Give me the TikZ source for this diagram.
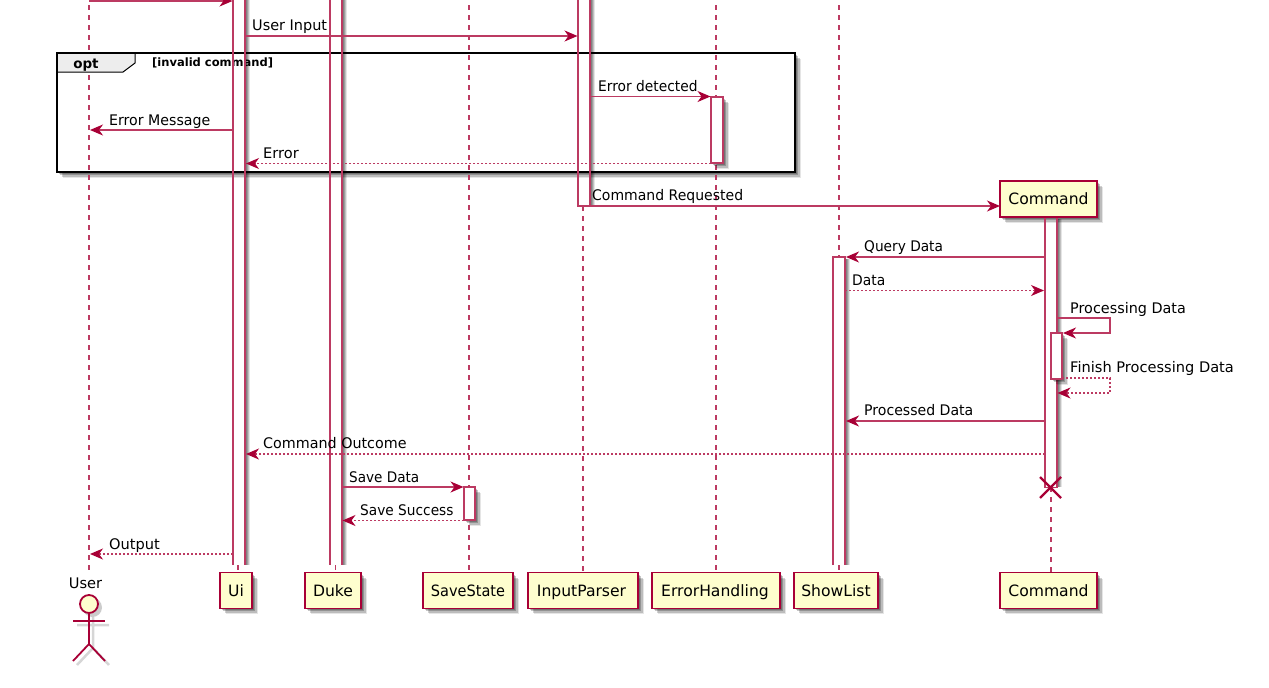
\documentclass[tikz,border=0pt]{standalone}
\usepackage{graphicx}
\usepackage{fontspec}
\setmainfont{DejaVu Sans}
\usetikzlibrary{arrows.meta}
\definecolor{pu}{HTML}{A80036}
\definecolor{pusoft}{HTML}{BC3A62}
\definecolor{pubox}{HTML}{FEFECE}
\newcommand{\lblsize}{\fontsize{14.6}{17}\selectfont}
\newcommand{\headsize}{\fontsize{15.6}{18}\selectfont}
\newcommand{\sx}[2]{\scalebox{#1}[1]{#2}}
% soft shadow of a box: x1 y1 x2 y2
\newcommand{\softbox}[4]{%
  \foreach \d/\o in {1.5/.22,3/.22,4.5/.18,5.5/.1}
    \fill[black,opacity=\o] (#1+\d,#2+\d) rectangle (#3+\d,#4+\d);}
% soft shadow to the right of an unfilled bar: x y1 y2
\newcommand{\softside}[3]{%
  \foreach \d/\o in {2/.18,3/.18,4/.16,5/.1}
    \fill[black,opacity=\o] (#1+.6,#2+2) rectangle (#1+\d,#3+2);}
\tikzset{
  head/.style={draw=pu,line width=1.5pt,fill=pubox,minimum height=36pt,inner sep=0pt,outer sep=0pt,font=\headsize,text=black,text height=14pt,text depth=3pt},
  bar/.style={minimum width=12pt,inner sep=0pt,outer sep=0pt},
  barline/.style={draw=pusoft,line width=1.2pt},
  life/.style={draw=pusoft,line width=1.2pt,dash pattern=on 5pt off 5pt},
  msg/.style={draw=pusoft,line width=1.2pt,-{Stealth[length=13pt,width=11pt,inset=4pt,color=pu]}},
  ret/.style={msg,dash pattern=on 2pt off 2pt},
  lbl/.style={anchor=base west,inner sep=0pt,font=\lblsize,text=black},
  actorline/.style={draw=pu,line width=1.8pt},
  actorshade/.style={draw=black,opacity=.16,line width=2.5pt},
}
\begin{document}
\begin{tikzpicture}[x=1pt,y=-1pt]
\useasboundingbox (0,0) rectangle (1269,688);
\clip (0,0) rectangle (1269,688);
% frame
\softbox{57}{53}{795}{172}
\node[fill=white,minimum width=738pt,minimum height=119pt,inner sep=0pt,outer sep=0pt] (frame) at (426,112.5) {};
% participants
\softbox{220}{573}{252}{608}
\softbox{305}{573}{361}{608}
\softbox{423}{573}{513}{608}
\softbox{528}{573}{638}{608}
\softbox{652}{573}{780}{608}
\softbox{794}{573}{878}{608}
\softbox{1000}{573}{1097}{608}
\softbox{1000}{181}{1097}{217}
\node[head,minimum width=32pt] (uiH) at (236,590.5) {Ui};
\node[head,minimum width=56pt] (dukeH) at (333,590.5) {Duke};
\node[head,minimum width=90pt] (saveH) at (468,590.5) {\sx{.93}{SaveState}};
\node[head,minimum width=110pt] (parseH) at (583,590.5) {\hspace{-3pt}InputParser};
\node[head,minimum width=128pt] (errH) at (716,590.5) {\hspace{-2pt}ErrorHandling};
\node[head,minimum width=84pt] (showH) at (836,590.5) {ShowList};
\node[head,minimum width=97pt] (cmdH) at (1048.5,590.5) {Command};
\node[head,minimum width=97pt] (cmdT) at (1048.5,199) {Command};
% free ends
\coordinate (userTop) at (89,-5);
\coordinate (saveTop) at (469,-5);
\coordinate (parseEnd) at (583,206);
\coordinate (errTop) at (716,-5);
\coordinate (showTop) at (839,-5);
\coordinate (userBot) at (89,572);
\coordinate (uiLow) at (238,565);
\coordinate (dukeLow) at (335.5,565);
\coordinate (uiBase) at (238,573);
\coordinate (dukeBase) at (335.5,573);
\coordinate (saveBase) at (469,573);
\coordinate (parseBase) at (583,573);
\coordinate (errBase) at (716,573);
\coordinate (showLow) at (839,565);
\coordinate (showBase) at (839,573);
\coordinate (cmdBase) at (1051,573);
\coordinate (cmdEnd) at (1051,487);
% lifelines
\draw[life] (userTop) -- (userBot);
\draw[life] (saveTop) -- (saveBase);
\draw[life] (parseEnd) -- (parseBase);
\draw[life] (errTop) -- (errBase);
\draw[life] (showTop) -- (showBase);
\draw[life] (cmdEnd) -- (cmdBase);
\draw[life] (uiLow) -- (uiBase);
\draw[life] (dukeLow) -- (dukeBase);
% opt tab
\path[draw=black,line width=1pt,fill=black!7] (57,53) -- (135,53) -- (135,63) -- (123,72) -- (57,72) -- cycle;
% activation bars: shadows and fills
\softside{245}{-20}{563}
\softside{342}{-20}{563}
\softside{590}{-20}{204}
\softside{845}{257}{563}
\softside{1057}{217}{485}
\softbox{711}{97}{723}{163}
\softbox{464}{487}{475}{520}
\node[bar,minimum height=585pt] (ui) at (239,272.5) {};
\node[bar,minimum height=585pt] (duke) at (336,272.5) {};
\node[bar,minimum height=226pt] (parse) at (584,93) {};
\node[bar,fill=white,minimum height=66pt] (err) at (717,130) {};
\node[bar,fill=white,minimum width=11pt,minimum height=33pt] (save) at (469.5,503.5) {};
\node[bar,fill=white,minimum height=308pt] (show) at (839,411) {};
\node[bar,minimum height=270pt] (cmd) at (1051,352.5) {};
% frame stroke and its text
\draw[black,line width=2.5pt] (frame.north west) rectangle (frame.south east);
\node[anchor=base,inner sep=0pt,font=\fontsize{13.5}{16}\bfseries,text=black] (optL) at (86,68) {opt};
\node[anchor=base west,inner sep=0pt,font=\fontsize{11.5}{14}\bfseries,text=black] (optG) at (152,66.5) {[invalid command]};
% bar outlines
\draw[barline] (ui.north west) -- (ui.south west) (ui.north east) -- (ui.south east);
\draw[barline] (duke.north west) -- (duke.south west) (duke.north east) -- (duke.south east);
\draw[barline] (parse.north west) -- (parse.south west) -- (parse.south east) -- (parse.north east);
\draw[barline] (err.south west) rectangle (err.north east);
\draw[barline] (save.south west) rectangle (save.north east);
\draw[barline] (show.south west) -- (show.north west) -- (show.north east) -- (show.south east);
\draw[barline] (cmd.north west) -- (cmd.south west) -- (cmd.south east) -- (cmd.north east);
\softbox{1051}{333}{1062}{379}
\node[bar,fill=white,minimum width=11pt,minimum height=46pt] (sub) at (1056.5,356) {};
\draw[barline] (sub.south west) rectangle (sub.north east);
% named points
\coordinate (user) at (89,0);
\coordinate (loopA) at (1110,318);
\coordinate (loopB) at (1110,333);
\coordinate (loopC) at (1110,378);
\coordinate (loopD) at (1110,393);
% messages
\draw[msg] (user |- 0,1) -- ([xshift=-.5pt]ui.west |- 0,1);
\draw[msg] (ui.east |- 0,36) -- ([xshift=-.5pt]parse.west |- 0,36);
\draw[msg] (parse.east |- 0,96.5) -- ([xshift=-.5pt]err.west |- 0,96.5);
\draw[msg] (ui.west |- 0,130) -- ([xshift=1pt]user |- 0,130);
\draw[ret] (err.west |- 0,163.5) -- ([xshift=1pt]ui.east |- 0,163.5);
\draw[msg] (parse.center |- 0,206) -- (cmdT.west |- 0,206);
\draw[msg] (cmd.west |- 0,257) -- ([xshift=1pt]show.east |- 0,257);
\draw[ret] (show.east |- 0,290.5) -- ([xshift=-1pt]cmd.west |- 0,290.5);
\draw[msg] (cmd.east |- 0,318) -- (loopA) -- (loopB) -- ([xshift=1pt]sub.east |- 0,333);
\draw[ret] (sub.east |- 0,378) -- (loopC) -- (loopD) -- ([xshift=.5pt]cmd.east |- 0,393);
\draw[msg] (cmd.west |- 0,421) -- ([xshift=1pt]show.east |- 0,421);
\draw[ret] (cmd.west |- 0,454) -- ([xshift=1pt]ui.east |- 0,454);
\draw[msg] (duke.east |- 0,487) -- ([xshift=-.5pt]save.west |- 0,487);
\draw[ret] (save.west |- 0,520.5) -- ([xshift=.5pt]duke.east |- 0,520.5);
\draw[ret] (ui.west |- 0,554) -- ([xshift=1pt]user |- 0,554);
% destroy
\draw[pu,line width=2.2pt] (1040,477) -- (1061,498) (1061,477) -- (1040,498);
% labels
\node[lbl] (m1) at (252,30) {\sx{.99}{User Input}};
\node[lbl] (m2) at (598,91) {\sx{.945}{Error detected}};
\node[lbl] (m3) at (109,125) {\sx{.97}{Error Message}};
\node[lbl] (m4) at (263,158) {Error};
\node[lbl] (m5) at (592,200) {\sx{.96}{Command Requested}};
\node[lbl] (m6) at (864,251) {\sx{.94}{Query Data}};
\node[lbl] (m7) at (852,285) {\sx{.95}{Data}};
\node[lbl] (m8) at (1070,313) {\sx{.985}{Processing Data}};
\node[lbl] (m9) at (1070,372) {Finish Processing Data};
\node[lbl] (m10) at (864,415) {\sx{.965}{Processed Data}};
\node[lbl] (m11) at (263,448) {\sx{.98}{Command Outcome}};
\node[lbl] (m12) at (349,482) {\sx{.93}{Save Data}};
\node[lbl] (m13) at (360,515) {\sx{.94}{Save Success}};
\node[lbl] (m14) at (109,549) {Output};
% actor
\node[lbl,anchor=base] (userL) at (85.5,588) {User};
\draw[actorshade] (77,625) -- (109,625) (93,617) -- (93,648) (77,665) -- (93,648) -- (109,665);
\fill[black,opacity=.2] (92.5,607.5) circle (9.5pt);
\node[circle,draw=pu,line width=1.8pt,fill=pubox,minimum size=18pt,inner sep=0pt,outer sep=0pt] (head) at (89,604) {};
\coordinate (hip) at (89,644);
\coordinate (armL) at (73,621);
\coordinate (armR) at (105,621);
\coordinate (legL) at (73,661);
\coordinate (legR) at (105,661);
\draw[actorline] (head.south) -- (hip);
\draw[actorline] (armL) -- (armR);
\draw[actorline] (legL) -- (hip) -- (legR);
\end{tikzpicture}
\end{document}
